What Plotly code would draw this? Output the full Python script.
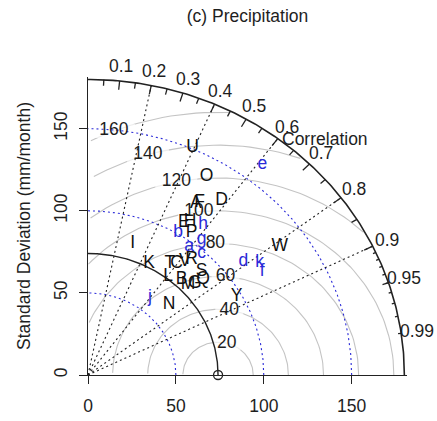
import numpy as np
import plotly.graph_objects as go

# ---- data -------------------------------------------------------------
ref_sd = 74.0          # observed standard deviation (mm/month)
max_sd = 180.0         # outer radius of the diagram

# Group 1 (black, upper-case labels)
upper_labels = ["A", "B", "C", "D", "E", "F", "G", "H", "I", "K", "L", "M",
                "N", "O", "P", "Q", "R", "S", "T", "U", "V", "W", "Y"]
upper_sd = [121.0, 78.9, 84.7, 130.4, 107.5, 122.7, 82.6, 109.9, 84.2, 76.5,
            75.3, 79.1, 62.9, 138.4, 104.6, 87.4, 91.6, 90.2, 82.5, 150.5,
            88.4, 134.2, 97.0]
upper_cor = [0.507, 0.674, 0.595, 0.583, 0.507, 0.518, 0.736, 0.528, 0.302,
             0.455, 0.606, 0.720, 0.734, 0.487, 0.563, 0.749, 0.643, 0.716,
             0.565, 0.395, 0.623, 0.813, 0.871]

# Group 2 (blue, lower-case labels)
lower_labels = ["a", "b", "c", "d", "e", "f", "g", "h", "j", "k"]
lower_sd = [97.1, 100.5, 98.4, 112.1, 161.9, 117.5, 104.6, 112.5, 58.6, 119.1]
lower_cor = [0.593, 0.510, 0.657, 0.788, 0.613, 0.844, 0.618, 0.582, 0.601, 0.820]

# centred RMS difference contours, SD arcs, correlation rays
rms_levels = [20, 40, 60, 80, 100, 120, 140, 160]
sd_arcs = [50, 100, 150]
corr_rays = [0.2, 0.4, 0.6, 0.8, 0.9]
corr_labels = [0.1, 0.2, 0.3, 0.4, 0.5, 0.6, 0.7, 0.8, 0.9, 0.95, 0.99]
axis_ticks = [0, 50, 100, 150]

AX_MAX = 181.5         # both axes run from 0 to AX_MAX
FONT = "Liberation Sans, Arial, sans-serif"
TXT = "#1e1e1e"
BLUE = "#2a2ad8"
FS = 17.5
DOT = "2px,3px"

fig = go.Figure()


def polar_xy(sd, cor):
    sd = np.asarray(sd, float)
    ang = np.arccos(np.asarray(cor, float))
    return sd * np.cos(ang), sd * np.sin(ang)


# ---- centred RMS difference circles around the reference point ----------
th = np.arange(0, np.pi + 1e-9, 0.03)
gx, gy = [], []
for g in rms_levels:
    xc = np.cos(th) * g + ref_sd
    yc = np.sin(th) * g
    keep = (xc >= 0) & (xc ** 2 + yc ** 2 <= max_sd ** 2)
    xc = np.where(keep, xc, np.nan)
    yc = np.where(keep, yc, np.nan)
    gx += list(xc) + [None]
    gy += list(yc) + [None]
fig.add_trace(go.Scatter(x=gx, y=gy, mode="lines",
                         line=dict(color="#c4c4c4", width=1.1),
                         hoverinfo="skip"))

# label positions along each circle, on a white patch
lab_ang = np.array([(44 + 3 * k) * 0.03 for k in range(len(rms_levels))])
lab_x = np.cos(lab_ang) * np.array(rms_levels) + ref_sd
lab_y = np.sin(lab_ang) * np.array(rms_levels)
lab_txt = [str(g) for g in rms_levels]
fig.add_trace(go.Scatter(
    x=lab_x, y=lab_y, mode="markers",
    marker=dict(symbol="line-ew", size=[10 * len(t) for t in lab_txt],
                color="white", line=dict(color="white", width=14)),
    hoverinfo="skip"))

# ---- SD arcs (blue dotted) ------------------------------------------------
qa = np.linspace(0, np.pi / 2, 200)
ax_, ay_ = [], []
for r in sd_arcs:
    ax_ += list(r * np.cos(qa)) + [None]
    ay_ += list(r * np.sin(qa)) + [None]
fig.add_trace(go.Scatter(x=ax_, y=ay_, mode="lines",
                         line=dict(color=BLUE, width=1.1, dash=DOT),
                         hoverinfo="skip"))

# ---- correlation rays (black dotted) --------------------------------------
rx, ry = [], []
for c in corr_rays:
    a = np.arccos(c)
    rx += [0, max_sd * np.cos(a), None]
    ry += [0, max_sd * np.sin(a), None]
fig.add_trace(go.Scatter(x=rx, y=ry, mode="lines",
                         line=dict(color="#222222", width=1.1, dash=DOT),
                         hoverinfo="skip"))

# ---- reference SD arc and outer boundary ----------------------------------
fig.add_trace(go.Scatter(x=ref_sd * np.cos(qa), y=ref_sd * np.sin(qa),
                         mode="lines", line=dict(color="#222222", width=1.4),
                         hoverinfo="skip"))
fig.add_trace(go.Scatter(x=max_sd * np.cos(qa), y=max_sd * np.sin(qa),
                         mode="lines", line=dict(color="#222222", width=1.6),
                         hoverinfo="skip"))

# correlation tick marks on the outer arc
tx, ty = [], []
for vals, frac in ((np.arange(0.1, 0.91, 0.1), 0.97),
                   (np.arange(0.05, 0.96, 0.1), 0.98),
                   (np.arange(0.91, 0.995, 0.01), 0.99)):
    for v in vals:
        a = np.arccos(v)
        tx += [max_sd * np.cos(a), frac * max_sd * np.cos(a), None]
        ty += [max_sd * np.sin(a), frac * max_sd * np.sin(a), None]
fig.add_trace(go.Scatter(x=tx, y=ty, mode="lines",
                         line=dict(color="#222222", width=1.3),
                         hoverinfo="skip"))

# RMS labels
fig.add_trace(go.Scatter(x=lab_x, y=lab_y, mode="text", text=lab_txt,
                         textposition="middle center",
                         textfont=dict(family=FONT, size=FS, color=TXT),
                         cliponaxis=False, hoverinfo="skip"))

# reference point
fig.add_trace(go.Scatter(x=[ref_sd], y=[0], mode="markers",
                         marker=dict(symbol="circle-open", size=9,
                                     color="#222222", line=dict(width=1.3)),
                         cliponaxis=False, hoverinfo="skip"))

# ---- model points ----------------------------------------------------------
ux, uy = polar_xy(upper_sd, upper_cor)
fig.add_trace(go.Scatter(x=ux, y=uy, mode="text", text=upper_labels,
                         textposition="middle center",
                         textfont=dict(family=FONT, size=FS, color="#111111"),
                         cliponaxis=False))
lx, ly = polar_xy(lower_sd, lower_cor)
fig.add_trace(go.Scatter(x=lx, y=ly, mode="text", text=lower_labels,
                         textposition="middle center",
                         textfont=dict(family=FONT, size=FS, color=BLUE),
                         cliponaxis=False))

# correlation labels around the outer arc; they sit partly outside the
# axis ranges, so they are placed in paper units (axes span 0..AX_MAX)
ca = np.arccos(np.array(corr_labels))
annotations = [
    dict(x=1.05 * max_sd * np.cos(a) / AX_MAX, y=1.05 * max_sd * np.sin(a) / AX_MAX,
         xref="paper", yref="paper", text=f"{c:g}", showarrow=False,
         xanchor="center", yanchor="middle",
         font=dict(family=FONT, size=FS, color=TXT))
    for a, c in zip(ca, corr_labels)
]
annotations.append(dict(x=135 / AX_MAX, y=144 / AX_MAX, xref="paper", yref="paper",
                        text="Correlation", showarrow=False,
                        xanchor="center", yanchor="middle",
                        font=dict(family=FONT, size=FS, color=TXT)))

axis_common = dict(range=[0, AX_MAX], tickvals=axis_ticks, ticks="outside",
                   ticklen=8, tickwidth=1, tickcolor="#222222",
                   showline=True, linecolor="#222222", linewidth=1,
                   showgrid=False, zeroline=False, automargin=False,
                   tickfont=dict(family=FONT, size=FS, color=TXT))

fig.update_layout(
    width=437, height=421, autosize=False,
    margin=dict(l=88, r=30, t=77, b=46),
    paper_bgcolor="white", plot_bgcolor="white",
    showlegend=False,
    annotations=annotations,
    title=dict(text="(c) Precipitation", x=0.5, xref="paper",
               y=1 - 16 / 421, yref="container", yanchor="middle",
               xanchor="center",
               font=dict(family=FONT, size=FS, color=TXT)),
    xaxis=dict(**axis_common, ticklabelstandoff=7),
    yaxis=dict(**axis_common, tickangle=-90, ticklabelstandoff=5,
               title=dict(text="Standard Deviation (mm/month)", standoff=15,
                          font=dict(family=FONT, size=FS, color=TXT))),
)

fig.write_html("out.html")
